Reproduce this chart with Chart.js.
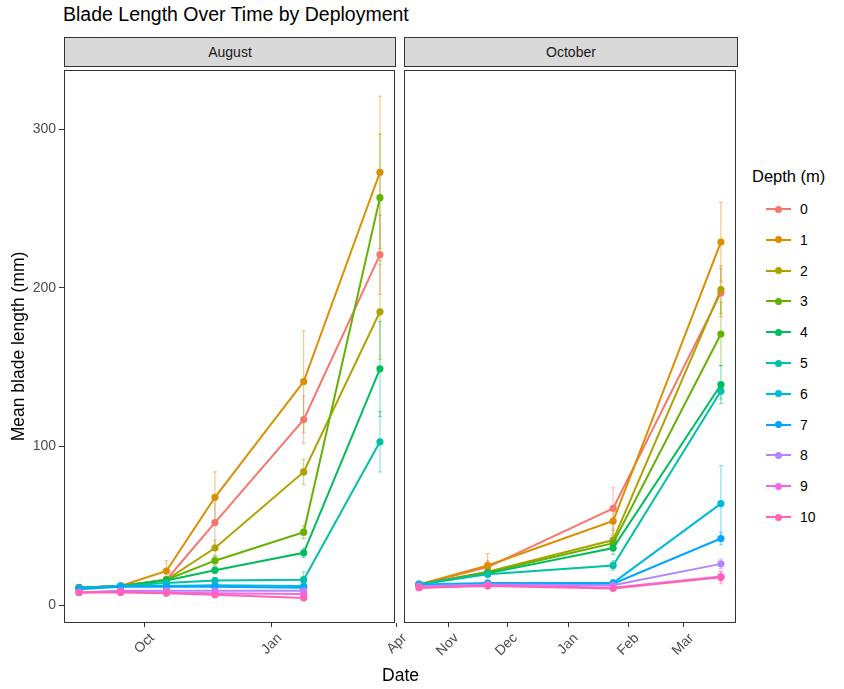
<!DOCTYPE html>
<html>
<head>
<meta charset="utf-8">
<script src="https://cdn.jsdelivr.net/npm/chart.js@4.4.1/dist/chart.umd.min.js"></script>
<style>
    body { margin: 0; background: #fff; font-family: "Liberation Sans", Arial, sans-serif; }
    #wrap { position: relative; width: 844px; height: 689px; overflow: hidden; background: #fff; }
    .abs { position: absolute; }
    #title { left: 63px; top: 3px; font-size: 19.5px; color: #000; white-space: nowrap; }
    .strip { top: 37px; height: 30px; background: #d9d9d9; border: 1px solid #333; box-sizing: border-box;
             text-align: center; line-height: 28px; font-size: 14px; color: #1a1a1a; }
    #xTitle { left: 0; width: 801px; top: 665px; text-align: center; font-size: 17.5px; color: #000; }
    #legendTitle { left: 752px; top: 167px; font-size: 16.5px; color: #000; white-space: nowrap; }
    .key { left: 766px; width: 25px; height: 2px; }
    .keyDot { width: 7px; height: 7px; border-radius: 50%; position: absolute; left: 9px; top: -2.5px; }
    .keyLabel { left: 800px; font-size: 14px; color: #000; line-height: 16px; }
    canvas { position: absolute; }
</style>
</head>
<body>
<div id="wrap">
    <div id="title" class="abs">Blade Length Over Time by Deployment</div>
    <div class="abs strip" style="left:64px;width:332px;">August</div>
    <div class="abs strip" style="left:404px;width:334px;">October</div>
    <canvas id="augustChart" width="420" height="623" style="left:0;top:66px;"></canvas>
    <canvas id="octoberChart" width="340" height="623" style="left:400px;top:66px;"></canvas>
    <div id="xTitle" class="abs">Date</div>
    <div id="legendTitle" class="abs">Depth (m)</div>
    <div id="legend"></div>
</div>
<script>
// Depth groups and ggplot hue colours
const depths = ['0', '1', '2', '3', '4', '5', '6', '7', '8', '9', '10'];
const depthColors = ['#F8766D', '#DB8E00', '#AEA200', '#64B200', '#00BD5C', '#00C1A7',
                     '#00BADE', '#00A6FF', '#B385FF', '#EF67EB', '#FF63B6'];

// Sampling dates per deployment
const augustDates = ['2018-08-15', '2018-09-14', '2018-10-17', '2018-11-21', '2019-01-24', '2019-03-20'];
const octoberDates = ['2018-10-17', '2018-11-21', '2019-01-24', '2019-03-20'];

// Mean blade length (mm), one row per depth
const augustMeans = [
    [11, 12, 16, 52, 117, 221],
    [11, 12, 21.5, 68, 141, 273],
    [11, 12, 16, 36, 84, 185],
    [11, 12, 16, 28, 46, 257],
    [11, 12, 15.5, 22, 33, 149],
    [11, 12, 14, 15.5, 16, 103],
    [10.5, 12, 12, 12.5, 12, null],
    [10, 11.5, 11.5, 11.5, 11, null],
    [8, 9, 9, 9, 9, null],
    [8, 8.5, 8, 7.5, 7, null],
    [8, 8, 7.5, 6.5, 4.5, null]
];
const augustErrors = [
    [1, 1, 2, 14, 15, 25],
    [1, 1, 6.5, 16, 32, 48],
    [1, 1, 2, 5, 8, 30],
    [1, 1, 2, 3, 4, 40],
    [1, 1, 1.5, 2, 3, 30],
    [1, 1, 1, 2, 5, 19],
    [1, 1, 1, 1, 2, null],
    [1, 1, 1, 1, 1, null],
    [1, 1, 1, 1, 1, null],
    [1, 1, 1, 1, 1, null],
    [1, 1, 1, 1, 1.5, null]
];
const octoberMeans = [
    [13, 24, 61, 197],
    [13, 25, 53, 229],
    [13, 21, 41, 199],
    [13, 20.5, 39, 171],
    [13, 20, 36, 139],
    [13, 19.5, 25, 135],
    [13, 14, 14, 64],
    [12.5, 13.5, 13.5, 42],
    [12, 13, 12.5, 26],
    [11, 12.5, 11, 18],
    [11, 12, 10.5, 17.5]
];
const octoberErrors = [
    [1, 4, 13, 15],
    [1, 7.5, 8, 25],
    [1, 3, 6, 15],
    [1, 2, 5, 20],
    [1, 2, 4, 12],
    [1, 2, 3, 5],
    [1, 1, 2, 24],
    [1, 1, 1, 4],
    [1, 1, 1, 3],
    [1, 1, 1, 3],
    [1, 1, 1, 4]
];

// Axis ticks
const augustTickDates = ['2018-10-01', '2019-01-01', '2019-04-01'];
const augustTickLabels = ['Oct', 'Jan', 'Apr'];
const octoberTickDates = ['2018-11-01', '2018-12-01', '2019-01-01', '2019-02-01', '2019-03-01'];
const octoberTickLabels = ['Nov', 'Dec', 'Jan', 'Feb', 'Mar'];
const yTickValues = [0, 100, 200, 300];
const yRange = [-11.3, 337.5];

const FONT = '"Liberation Sans", Arial, sans-serif';

function dayNum(s) {
    return Date.parse(s + 'T00:00:00Z') / 86400000;
}

function withAlpha(hex, a) {
    const n = parseInt(hex.slice(1), 16);
    return `rgba(${(n >> 16) & 255}, ${(n >> 8) & 255}, ${n & 255}, ${a})`;
}

function buildDatasets(dates, means, errors) {
    return depths.map((depth, i) => {
        const data = [];
        const errs = [];
        dates.forEach((d, j) => {
            if (means[i][j] == null) return;
            data.push({ x: dayNum(d), y: means[i][j] });
            errs.push(errors[i][j]);
        });
        return {
            label: depth,
            data: data,
            errors: errs,
            borderColor: depthColors[i],
            backgroundColor: depthColors[i],
            pointBackgroundColor: depthColors[i],
            pointBorderWidth: 0,
            pointRadius: 3.6,
            borderWidth: 2,
            tension: 0,
            order: depths.length - i
        };
    });
}

// Vertical error bars with small caps, drawn under the lines
const errorBarPlugin = {
    id: 'errorBars',
    beforeDatasetsDraw(chart) {
        const ctx = chart.ctx;
        const yScale = chart.scales.y;
        ctx.save();
        chart.data.datasets.forEach((ds, i) => {
            const meta = chart.getDatasetMeta(i);
            ctx.strokeStyle = withAlpha(ds.borderColor, 0.55);
            ctx.lineWidth = 1;
            ds.data.forEach((pt, j) => {
                const err = ds.errors[j];
                if (!err) return;
                const x = meta.data[j].x;
                const yTop = yScale.getPixelForValue(pt.y + err);
                const yBot = yScale.getPixelForValue(pt.y - err);
                ctx.beginPath();
                ctx.moveTo(x, yTop);
                ctx.lineTo(x, yBot);
                ctx.moveTo(x - 2, yTop);
                ctx.lineTo(x + 2, yTop);
                ctx.moveTo(x - 2, yBot);
                ctx.lineTo(x + 2, yBot);
                ctx.stroke();
            });
        });
        ctx.restore();
    }
};

// Panel border like ggplot's theme_bw
const panelBorderPlugin = {
    id: 'panelBorder',
    afterDraw(chart) {
        const { ctx, chartArea } = chart;
        ctx.save();
        ctx.strokeStyle = '#333333';
        ctx.lineWidth = 1;
        ctx.strokeRect(Math.round(chartArea.left) + 0.5, Math.round(chartArea.top) + 0.5,
                       Math.round(chartArea.right - chartArea.left) - 1,
                       Math.round(chartArea.bottom - chartArea.top) - 1);
        ctx.restore();
    }
};

function makePanel(canvasId, dates, means, errors, tickDates, tickLabels, showY, padding) {
    const dayValues = dates.map(dayNum);
    const first = Math.min(...dayValues);
    const last = Math.max(...dayValues);
    const expand = (last - first) * 0.05;
    const tickValues = tickDates.map(dayNum);

    return new Chart(document.getElementById(canvasId), {
        type: 'line',
        data: { datasets: buildDatasets(dates, means, errors) },
        options: {
            responsive: false,
            animation: false,
            devicePixelRatio: 1,
            layout: { padding: padding },
            plugins: {
                legend: { display: false },
                tooltip: { enabled: false }
            },
            scales: {
                x: {
                    type: 'linear',
                    min: first - expand,
                    max: last + expand,
                    afterBuildTicks: scale => { scale.ticks = tickValues.map(v => ({ value: v })); },
                    afterFit: scale => { scale.height = 66; scale.paddingLeft = 0; scale.paddingRight = 0; },
                    grid: { drawOnChartArea: false, drawTicks: true, tickLength: 4, tickColor: '#333333' },
                    border: { display: false },
                    ticks: {
                        autoSkip: false,
                        maxRotation: 45,
                        minRotation: 45,
                        padding: 3,
                        labelOffset: 8,
                        color: '#4d4d4d',
                        font: { family: FONT, size: 14 },
                        callback: (value, index) => tickLabels[index]
                    }
                },
                y: {
                    display: showY,
                    min: yRange[0],
                    max: yRange[1],
                    afterBuildTicks: scale => { scale.ticks = yTickValues.map(v => ({ value: v })); },
                    afterFit: scale => {
                        scale.width = showY ? 64 : 0;
                        scale.paddingTop = 0;
                        scale.paddingBottom = 0;
                    },
                    grid: { drawOnChartArea: false, drawTicks: true, tickLength: 5, tickColor: '#333333' },
                    border: { display: false },
                    ticks: {
                        padding: 3,
                        color: '#4d4d4d',
                        font: { family: FONT, size: 14 }
                    },
                    title: {
                        display: true,
                        text: 'Mean blade length (mm)',
                        color: '#000',
                        padding: { top: 9, bottom: 0 },
                        font: { family: FONT, size: 17.5 }
                    }
                }
            }
        },
        plugins: [errorBarPlugin, panelBorderPlugin]
    });
}

makePanel('augustChart', augustDates, augustMeans, augustErrors,
          augustTickDates, augustTickLabels, true, { left: 0, right: 25, top: 0, bottom: 0 });
makePanel('octoberChart', octoberDates, octoberMeans, octoberErrors,
          octoberTickDates, octoberTickLabels, false, { left: 4, right: 3, top: 0, bottom: 0 });

// Legend built from the same depth list
const legend = document.getElementById('legend');
depths.forEach((depth, i) => {
    const cy = 209 + i * 30.8;
    const key = document.createElement('div');
    key.className = 'abs key';
    key.style.top = (cy - 1) + 'px';
    key.style.background = depthColors[i];
    key.innerHTML = `<div class="keyDot" style="background:${depthColors[i]}"></div>`;
    legend.appendChild(key);

    const label = document.createElement('div');
    label.className = 'abs keyLabel';
    label.style.top = (cy - 8) + 'px';
    label.textContent = depth;
    legend.appendChild(label);
});
</script>
</body>
</html>
